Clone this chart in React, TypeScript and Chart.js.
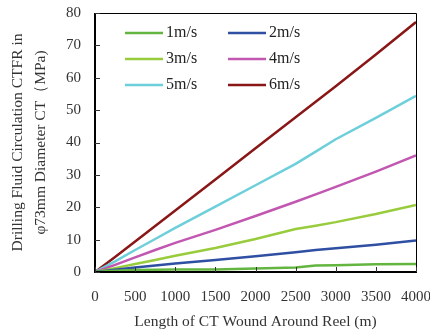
import React, { useEffect, useRef } from "react";
import { Chart, registerables } from "chart.js";

Chart.register(...registerables);

// Reel length (m) at which each pressure value was taken
const lengths = [0, 250, 500, 750, 1000, 1500, 2000, 2500, 2750, 3000, 3500, 4000];

// Circulation friction pressure (MPa) for each flow velocity
const v1 = [0, 0.4, 0.6, 0.7, 0.8, 0.8, 1.1, 1.4, 2.0, 2.1, 2.4, 2.5];
const v2 = [0, 0.7, 1.4, 2.0, 2.6, 3.7, 4.9, 6.1, 6.8, 7.3, 8.4, 9.7];
const v3 = [0, 1.2, 2.5, 3.7, 5.0, 7.4, 10.2, 13.3, 14.3, 15.4, 17.9, 20.7];
const v4 = [0, 2.2, 4.5, 6.8, 9.0, 13.0, 17.3, 21.7, 24.0, 26.3, 31.0, 36.0];
const v5 = [0, 3.3, 6.8, 10.2, 13.6, 20.2, 26.8, 33.4, 37.2, 41.0, 47.6, 54.4];
const v6 = [0, 4.6, 9.4, 14.2, 19.0, 28.6, 38.2, 47.8, 52.6, 57.4, 67.2, 77.2];

const seriesNames = ["1m/s", "2m/s", "3m/s", "4m/s", "5m/s", "6m/s"];
const seriesValues = [v1, v2, v3, v4, v5, v6];
const seriesColors = ["#63b540", "#2f4fa2", "#98cc3c", "#c257b1", "#6ccfda", "#8a1717"];

const xTicks = [0, 500, 1000, 1500, 2000, 2500, 3000, 3500, 4000];
const yTicks = [0, 10, 20, 30, 40, 50, 60, 70, 80];

const serif = "'Liberation Serif', 'DejaVu Serif', serif";

// Frame, inward tick marks and a two-column legend inside the plot
const framePlugin = {
  id: "frame",
  afterDatasetsDraw(chart: any) {
    const { ctx, chartArea: a, scales } = chart;
    const xs = scales.x;
    const ys = scales.y;
    ctx.save();
    ctx.strokeStyle = "#000";
    ctx.lineWidth = 1;
    ctx.beginPath();
    ctx.moveTo(a.left, a.top + 0.5);
    ctx.lineTo(a.right + 0.5, a.top + 0.5);
    ctx.lineTo(a.right + 0.5, a.bottom);
    ctx.stroke();
    ctx.lineWidth = 2;
    ctx.beginPath();
    ctx.moveTo(a.left, a.top);
    ctx.lineTo(a.left, a.bottom);
    ctx.lineTo(a.right + 1, a.bottom);
    ctx.stroke();
    ctx.lineWidth = 1;
    ctx.strokeStyle = "#333";
    ctx.beginPath();
    for (const t of xTicks) {
      const px = Math.round(xs.getPixelForValue(t)) + 0.5;
      ctx.moveTo(px, a.bottom);
      ctx.lineTo(px, a.bottom - 5);
    }
    for (const t of yTicks) {
      const py = Math.round(ys.getPixelForValue(t)) + 0.5;
      ctx.moveTo(a.left, py);
      ctx.lineTo(a.left + 5, py);
    }
    ctx.stroke();

    // legend: odd entries left column, even entries right column
    ctx.font = "16px " + serif;
    ctx.textBaseline = "middle";
    ctx.fillStyle = "#222";
    chart.data.datasets.forEach((ds: any, i: number) => {
      const col = i % 2;
      const row = Math.floor(i / 2);
      const x0 = a.left + 30 + col * 103;
      const y0 = a.top + 20 + row * 26;
      ctx.strokeStyle = ds.borderColor;
      ctx.lineWidth = 2.5;
      ctx.beginPath();
      ctx.moveTo(x0, y0);
      ctx.lineTo(x0 + 38, y0);
      ctx.stroke();
      ctx.fillText(ds.label, x0 + 41, y0);
    });
    ctx.restore();
  },
};

export default function App() {
  const ref = useRef<HTMLCanvasElement>(null);

  useEffect(() => {
    if (!ref.current) return;
    const datasets = seriesNames.map((name, i) => ({
      label: name,
      data: lengths.map((x, j) => ({ x, y: seriesValues[i][j] })),
      borderColor: seriesColors[i],
      backgroundColor: seriesColors[i],
      borderWidth: 2.5,
      pointRadius: 0,
      tension: 0,
      fill: false,
    }));
    const chart = new Chart(ref.current, {
      type: "line",
      data: { datasets },
      plugins: [framePlugin],
      options: {
        animation: false,
        responsive: false,
        maintainAspectRatio: false,
        layout: { padding: 0 },
        plugins: { legend: { display: false }, tooltip: { enabled: false } },
        scales: {
          x: {
            type: "linear",
            min: 0,
            max: 4000,
            afterBuildTicks: (s: any) => {
              s.ticks = xTicks.map((v) => ({ value: v }));
            },
            grid: { display: false, drawTicks: false },
            border: { display: false },
            ticks: {
              color: "#333",
              font: { family: serif, size: 15 },
              padding: 16,
              maxRotation: 0,
              callback: (v: any) => String(v),
            },
            title: {
              display: true,
              text: "Length of CT Wound Around Reel (m)",
              color: "#333",
              font: { family: serif, size: 15.5 },
              padding: { top: 4, bottom: 0 },
            },
            afterFit: (s: any) => {
              s.height = 59;
              s.paddingRight = 14;
              s.paddingLeft = 0;
            },
          },
          y: {
            type: "linear",
            min: 0,
            max: 80,
            afterBuildTicks: (s: any) => {
              s.ticks = yTicks.map((v) => ({ value: v }));
            },
            grid: { display: false, drawTicks: false },
            border: { display: false },
            ticks: { color: "#333", font: { family: serif, size: 15 }, padding: 14 },
            title: {
              display: true,
              text: ["Drilling Fluid Circulation CTFR in", "φ73mm Diameter CT（MPa)"],
              color: "#333",
              font: { family: serif, size: 15.5, lineHeight: 1.45 },
              padding: { top: 7, bottom: 0 },
            },
            afterFit: (s: any) => {
              s.width = 95;
              s.paddingTop = 13;
              s.paddingBottom = 0;
            },
          },
        },
      },
    });
    return () => chart.destroy();
  }, []);

  return (
    <div style={{ position: "fixed", left: 0, top: 0, width: 430, height: 331, background: "#fff" }}>
      <canvas ref={ref} width={430} height={331} style={{ width: 430, height: 331 }} />
    </div>
  );
}
